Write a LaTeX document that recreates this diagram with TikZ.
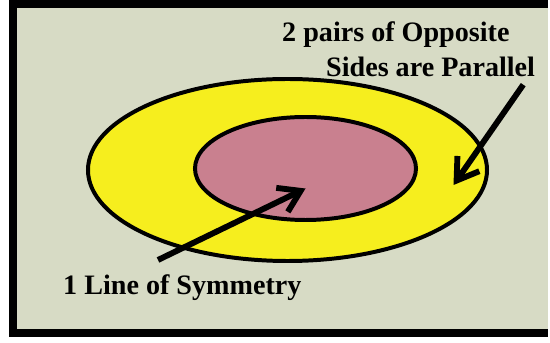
\documentclass[tikz,border=0pt]{standalone}
\usepackage{fontspec}
\setmainfont{Liberation Serif}
\usetikzlibrary{arrows.meta,positioning,calc,shapes.geometric}

\definecolor{panelbg}{RGB}{215,219,197}
\definecolor{ringyellow}{RGB}{246,238,30}
\definecolor{corepink}{RGB}{201,128,143}

\begin{document}
\begin{tikzpicture}[
  x=0.03cm, y=-0.03cm,
  oval/.style={draw, ellipse, line width=3.4pt, inner sep=0pt},
  lbl/.style={font=\fontsize{24}{30}\selectfont\bfseries, inner sep=0pt, align=left},
  arr/.style={line width=5pt, -{Straight Barb[length=0.62cm, width=0.8cm]}}
]
\useasboundingbox (0,0) rectangle (550,343);

\fill[black] (9,0) rectangle (548,337);
\fill[panelbg] (17,8) rectangle (548,329);

\node[oval, fill=ringyellow, minimum width=11.97cm, minimum height=5.46cm] (ring) at (287.5,170) {};
\node[oval, fill=corepink, minimum width=6.63cm, minimum height=3.09cm] (core) at (305.5,168.5) {};

\node[lbl, anchor=base west] (sym) at (63,295) {1 Line of Symmetry};
\node[lbl, anchor=north west] (pairs) at (282,21) {2 pairs of Opposite\\\hspace*{1.32cm}Sides are Parallel};

\draw[arr] ($(sym.north west)+(95,-15)$) -- ($(core.center)+(0,20)$);
\draw[arr] ($(pairs.south east)+(-12,8)$) -- ($(ring.center)+(166,15)$);

\end{tikzpicture}
\end{document}
